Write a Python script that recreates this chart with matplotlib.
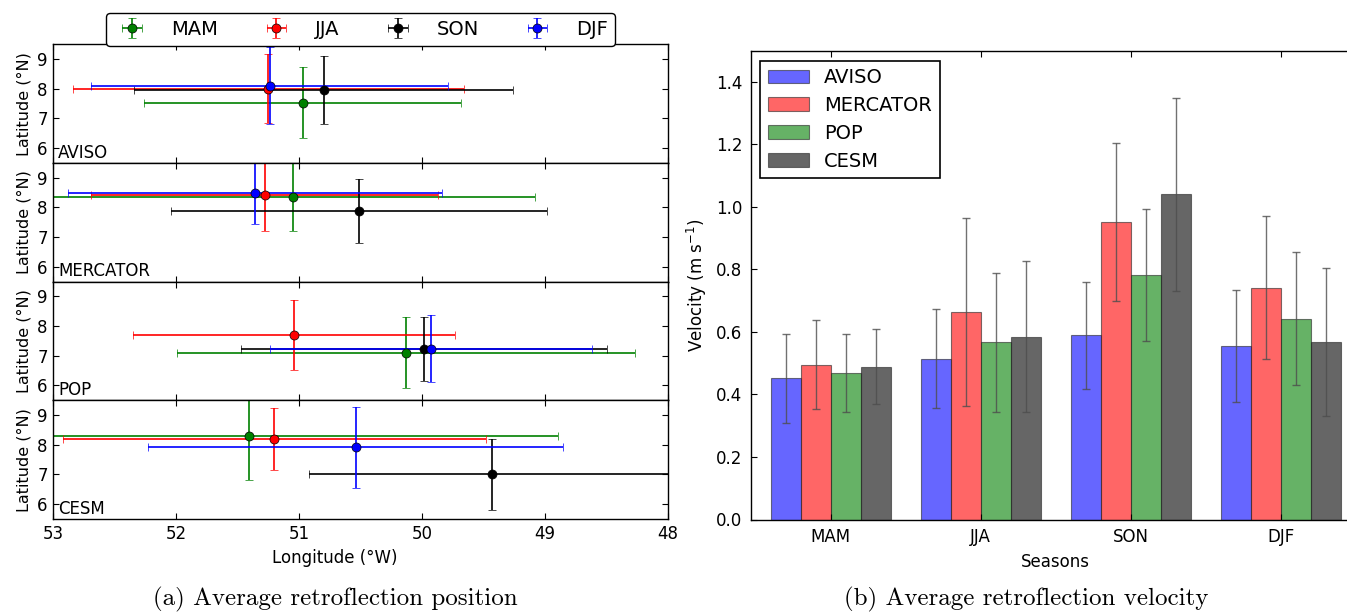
import numpy as np
import matplotlib
matplotlib.use("Agg")
import matplotlib.pyplot as plt

# ---------------- data: panel (a) ----------------
seasons = ["MAM", "JJA", "SON", "DJF"]
season_colors = ["g", "r", "k", "b"]
datasets = ["AVISO", "MERCATOR", "POP", "CESM"]

# longitude (deg W), latitude (deg N), and their error half-widths per dataset, season order MAM,JJA,SON,DJF
aviso_lon = [50.97, 51.25, 50.80, 51.24]
aviso_lat = [7.53, 8.00, 7.96, 8.10]
aviso_lon_err = [1.29, 1.59, 1.54, 1.45]
aviso_lat_err = [1.20, 1.16, 1.16, 1.30]

mercator_lon = [51.05, 51.28, 50.51, 51.36]
mercator_lat = [8.35, 8.43, 7.88, 8.48]
mercator_lon_err = [1.97, 1.41, 1.53, 1.52]
mercator_lat_err = [1.15, 1.22, 1.07, 1.05]

pop_lon = [50.13, 51.04, 49.98, 49.93]
pop_lat = [7.11, 7.70, 7.24, 7.24]
pop_lon_err = [1.86, 1.31, 1.49, 1.31]
pop_lat_err = [1.20, 1.17, 1.08, 1.12]

cesm_lon = [51.41, 51.20, 49.43, 50.54]
cesm_lat = [8.31, 8.19, 7.00, 7.91]
cesm_lon_err = [2.52, 1.72, 1.49, 1.69]
cesm_lat_err = [1.50, 1.04, 1.18, 1.37]

lon_ticks = [53, 52, 51, 50, 49, 48]
lat_ticks = [6, 7, 8, 9]

# ---------------- data: panel (b) ----------------
models = ["AVISO", "MERCATOR", "POP", "CESM"]
model_colors = ["b", "r", "g", "k"]
vel_aviso = [0.452, 0.515, 0.589, 0.555]
vel_mercator = [0.495, 0.664, 0.952, 0.742]
vel_pop = [0.468, 0.567, 0.782, 0.643]
vel_cesm = [0.489, 0.585, 1.040, 0.569]
err_aviso = [0.142, 0.158, 0.170, 0.178]
err_mercator = [0.143, 0.300, 0.254, 0.228]
err_pop = [0.125, 0.222, 0.210, 0.212]
err_cesm = [0.121, 0.241, 0.310, 0.237]
vel_ticks = [0.0, 0.2, 0.4, 0.6, 0.8, 1.0, 1.2, 1.4]

W, H, DPI = 1347, 612, 100
fig = plt.figure(figsize=(W / DPI, H / DPI), dpi=DPI)

FS_TICK = 12
FS_LAB = 12

# ---------- panel (a) ----------
left_px, right_px = 53.3, 667.7
top_px, bot_px = 44.3, 519.0
ph = (bot_px - top_px) / 4.0
pos_data = [
    (aviso_lon, aviso_lat, aviso_lon_err, aviso_lat_err),
    (mercator_lon, mercator_lat, mercator_lon_err, mercator_lat_err),
    (pop_lon, pop_lat, pop_lon_err, pop_lat_err),
    (cesm_lon, cesm_lat, cesm_lon_err, cesm_lat_err),
]
axes_a = []
for i, (name, (lon, lat, lone, late)) in enumerate(zip(datasets, pos_data)):
    y0 = top_px + i * ph
    ax = fig.add_axes([left_px / W, 1 - (y0 + ph) / H, (right_px - left_px) / W, ph / H])
    axes_a.append(ax)
    for j, s in enumerate(seasons):
        ax.errorbar(lon[j], lat[j], xerr=lone[j], yerr=late[j], fmt="o",
                    color=season_colors[j], ecolor=season_colors[j],
                    markersize=6.5, mec="k", mew=0.5, elinewidth=1.2,
                    capsize=3, capthick=1.2, label=s)
    ax.set_xlim(53, 48)
    ax.set_ylim(5.5, 9.5)
    ax.set_yticks(lat_ticks)
    ax.set_xticks(lon_ticks)
    ax.tick_params(direction="in", top=True, right=True, labelsize=FS_TICK,
                   length=4, width=0.8, pad=4)
    ax.set_ylabel("Latitude (°N)", fontsize=11.5, labelpad=4)
    if i < 3:
        ax.tick_params(labelbottom=False)
    ax.text(0.008, 0.01, name, transform=ax.transAxes, fontsize=FS_TICK,
            ha="left", va="bottom")
    for sp in ax.spines.values():
        sp.set_linewidth(1.0)

axes_a[-1].set_xlabel("Longitude (°W)", fontsize=FS_LAB)
axes_a[-1].xaxis.set_label_coords((335 - left_px) / (right_px - left_px), -0.25)
leg = axes_a[0].legend(loc="center", bbox_to_anchor=(0.5, 1.125), ncol=4,
                       fontsize=14, fancybox=True, framealpha=1,
                       edgecolor="k", columnspacing=2.0, handlelength=2.0,
                       handletextpad=1.0, borderpad=0.35, numpoints=1)
leg.get_frame().set_linewidth(1.0)
leg.set_zorder(10)

# ---------- panel (b) ----------
bl_px, bt_px, bb_px = 750.7, 50.7, 519.5
xlim_b = (-0.533, 3.533)
bw_px = (xlim_b[1] - xlim_b[0]) * 150.0
axb = fig.add_axes([bl_px / W, 1 - bb_px / H, bw_px / W, (bb_px - bt_px) / H])
ind = np.arange(len(seasons))
width = 0.2
vals = [vel_aviso, vel_mercator, vel_pop, vel_cesm]
errs = [err_aviso, err_mercator, err_pop, err_cesm]
for k, (m, c, v, e) in enumerate(zip(models, model_colors, vals, errs)):
    axb.bar(ind + (k - 1.5) * width, v, width, color=c, alpha=0.6,
            edgecolor="k", linewidth=0.8, label=m)
    axb.errorbar(ind + (k - 1.5) * width, v, yerr=e, fmt="none",
                 ecolor=(0.3, 0.3, 0.3), alpha=0.8, elinewidth=1.0,
                 capsize=3, capthick=1.0)
for p in axb.patches:
    p.set_edgecolor((0.15, 0.15, 0.15, 1))
axb.set_xlim(*xlim_b)
axb.set_ylim(0, 1.5)
axb.set_xticks(ind)
axb.set_xticklabels(seasons)
axb.set_yticks(vel_ticks)
axb.set_yticklabels([f"{t:.1f}" for t in vel_ticks])
axb.tick_params(direction="in", top=True, right=True, labelsize=12,
                length=4, width=0.8, pad=6)
axb.set_ylabel(r"Velocity (m s$^{-1}$)", fontsize=FS_LAB, labelpad=5)
axb.set_xlabel("Seasons", fontsize=FS_LAB, labelpad=5)
for sp in axb.spines.values():
    sp.set_linewidth(1.0)
legb = axb.legend(loc="upper left", bbox_to_anchor=(0.0152, 0.979),
                  borderaxespad=0, fontsize=14,
                  fancybox=False, framealpha=1, edgecolor="k",
                  handlelength=2.1, handleheight=0.7, labelspacing=0.45,
                  handletextpad=0.8, borderpad=0.4)
legb.get_frame().set_linewidth(1.2)

# ---------- captions ----------
fig.text(335 / W, 1 - 599 / H, "(a) Average retroflection position",
         family="cmr10", fontsize=18, ha="center", va="center")
fig.text(1026 / W, 1 - 599 / H, "(b) Average retroflection velocity",
         family="cmr10", fontsize=18, ha="center", va="center")

fig.savefig("out.png", dpi=DPI)
